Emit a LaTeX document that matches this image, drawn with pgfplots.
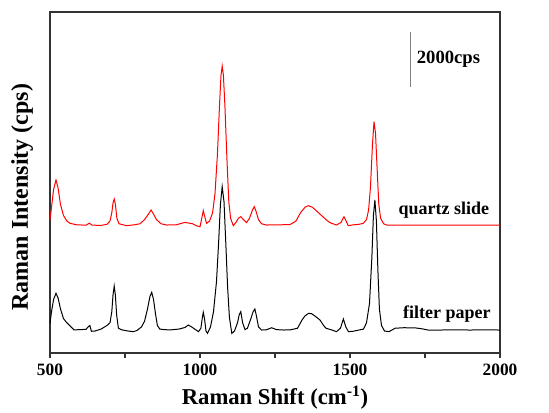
\documentclass[border=0pt]{standalone}
\usepackage{pgfplots}
\pgfplotsset{compat=1.18}
\usepackage{fontspec}
\setmainfont{Liberation Serif}

% Raman spectra of the same analyte on two substrates (offset vertically)
\pgfplotstableread{
x y
500 1080
505 1500
512 1950
520 2170
527 2000
535 1600
545 1250
556 1100
570 950
580 840
600 850
620 860
628 960
633 1000
638 790
650 800
670 870
690 1000
700 1100
706 1500
710 2100
714 2436
718 2100
722 1400
728 900
740 840
760 800
778 776
790 820
805 950
815 1150
825 1600
833 2050
839 2206
845 1950
852 1400
858 1000
866 870
880 850
900 840
930 870
950 930
961 1018
972 950
985 850
995 776
1003 900
1008 1300
1011 1479
1015 1250
1020 800
1025 715
1035 950
1045 1500
1055 2600
1062 4000
1068 5400
1074 6048
1080 5500
1086 4000
1092 2400
1098 1300
1106 715
1115 800
1125 1100
1131 1400
1136 1503
1142 1100
1150 850
1158 900
1168 1200
1177 1500
1183 1600
1188 1350
1195 950
1205 836
1220 840
1239 918
1255 850
1280 836
1300 840
1325 900
1340 1200
1350 1350
1362 1442
1372 1430
1385 1330
1400 1200
1412 1000
1420 900
1440 836
1455 776
1468 900
1478 1236
1486 950
1495 776
1510 790
1530 836
1545 870
1555 1100
1565 1800
1573 3500
1578 5000
1583 5563
1588 4800
1593 3000
1598 1600
1605 1000
1615 800
1630 776
1650 900
1680 920
1720 910
1740 880
1760 836
1800 836
1850 840
1900 836
1950 840
2000 836
}\filterpaper

\pgfplotstableread{
x y
500 4836
505 5300
512 5950
520 6290
527 6000
535 5400
545 5000
556 4800
567 4715
590 4660
620 4650
631 4720
640 4650
670 4640
690 4680
700 4800
706 5100
710 5450
714 5600
718 5400
723 4900
730 4700
755 4630
780 4660
800 4700
815 4850
825 5000
837 5200
845 5050
855 4850
870 4700
889 4654
920 4660
950 4750
975 4700
990 4620
1000 4593
1005 4850
1011 5175
1016 4950
1022 4715
1032 4800
1042 5100
1050 5800
1058 7200
1065 9000
1070 10100
1074 10435
1078 10100
1083 9000
1090 7000
1096 5500
1102 4900
1111 4630
1120 4750
1128 4900
1136 4957
1145 4850
1155 4740
1165 4900
1175 5200
1181 5321
1187 5150
1195 4850
1205 4700
1222 4654
1260 4660
1300 4670
1320 4800
1335 5100
1350 5300
1361 5357
1375 5300
1390 5150
1405 5000
1420 4850
1433 4740
1455 4654
1470 4750
1480 4957
1487 4800
1494 4630
1510 4660
1530 4680
1544 4715
1555 4850
1562 5200
1568 6000
1575 7600
1580 8411
1585 8000
1590 6800
1596 5400
1602 4900
1612 4700
1622 4654
1700 4650
1800 4654
1900 4650
2000 4654
}\quartzslide

\begin{document}
\begin{tikzpicture}
\useasboundingbox (-37.5pt,-44.25pt) rectangle (374.25pt,264.75pt);
\begin{axis}[
  at={(0,0)}, anchor=south west,
  scale only axis,
  width=337.5pt, height=255.75pt,
  xmin=500, xmax=2000,
  ymin=0, ymax=12400,
  xtick={500,1000,1500,2000},
  minor xtick={750,1250,1750},
  ytick=\empty,
  xtick pos=bottom,
  tick align=outside,
  major tick length=4pt,
  minor tick length=3.5pt,
  axis line style={draw=black!80, line width=0.8pt},
  every tick/.style={black!80, line width=0.8pt},
  /pgf/number format/assume math mode=true,
  /pgf/number format/set thousands separator={},
  xticklabel style={font=\fontsize{13}{15}\selectfont\bfseries, yshift=-1pt},
  xlabel={Raman Shift (cm\textsuperscript{-1})},
  ylabel={Raman Intensity (cps)},
  xlabel style={font=\fontsize{17}{19}\selectfont\bfseries, at={(axis description cs:0.5,-0.092)}, anchor=north, inner sep=1pt},
  ylabel style={font=\fontsize{18}{20}\selectfont\bfseries, at={(axis description cs:-0.062,0.457)}, anchor=center},
  clip=false,
]
\addplot[red, line width=0.75pt] table[x=x, y=y] {\quartzslide};
\addplot[black, line width=0.75pt] table[x=x, y=y] {\filterpaper};

% 2000 cps intensity scale bar
\draw[gray, line width=1.2pt] (axis cs:1702,9680) -- (axis cs:1702,11680);
\node[anchor=west, font=\fontsize{14}{16}\selectfont\bfseries, inner sep=0pt]
  at (axis cs:1722,10680) {2000cps};

\node[font=\fontsize{13.5}{16}\selectfont\bfseries] at (axis cs:1813,5200) {quartz slide};
\node[font=\fontsize{13.5}{16}\selectfont\bfseries] at (axis cs:1823,1418) {filter paper};
\end{axis}
\end{tikzpicture}
\end{document}
